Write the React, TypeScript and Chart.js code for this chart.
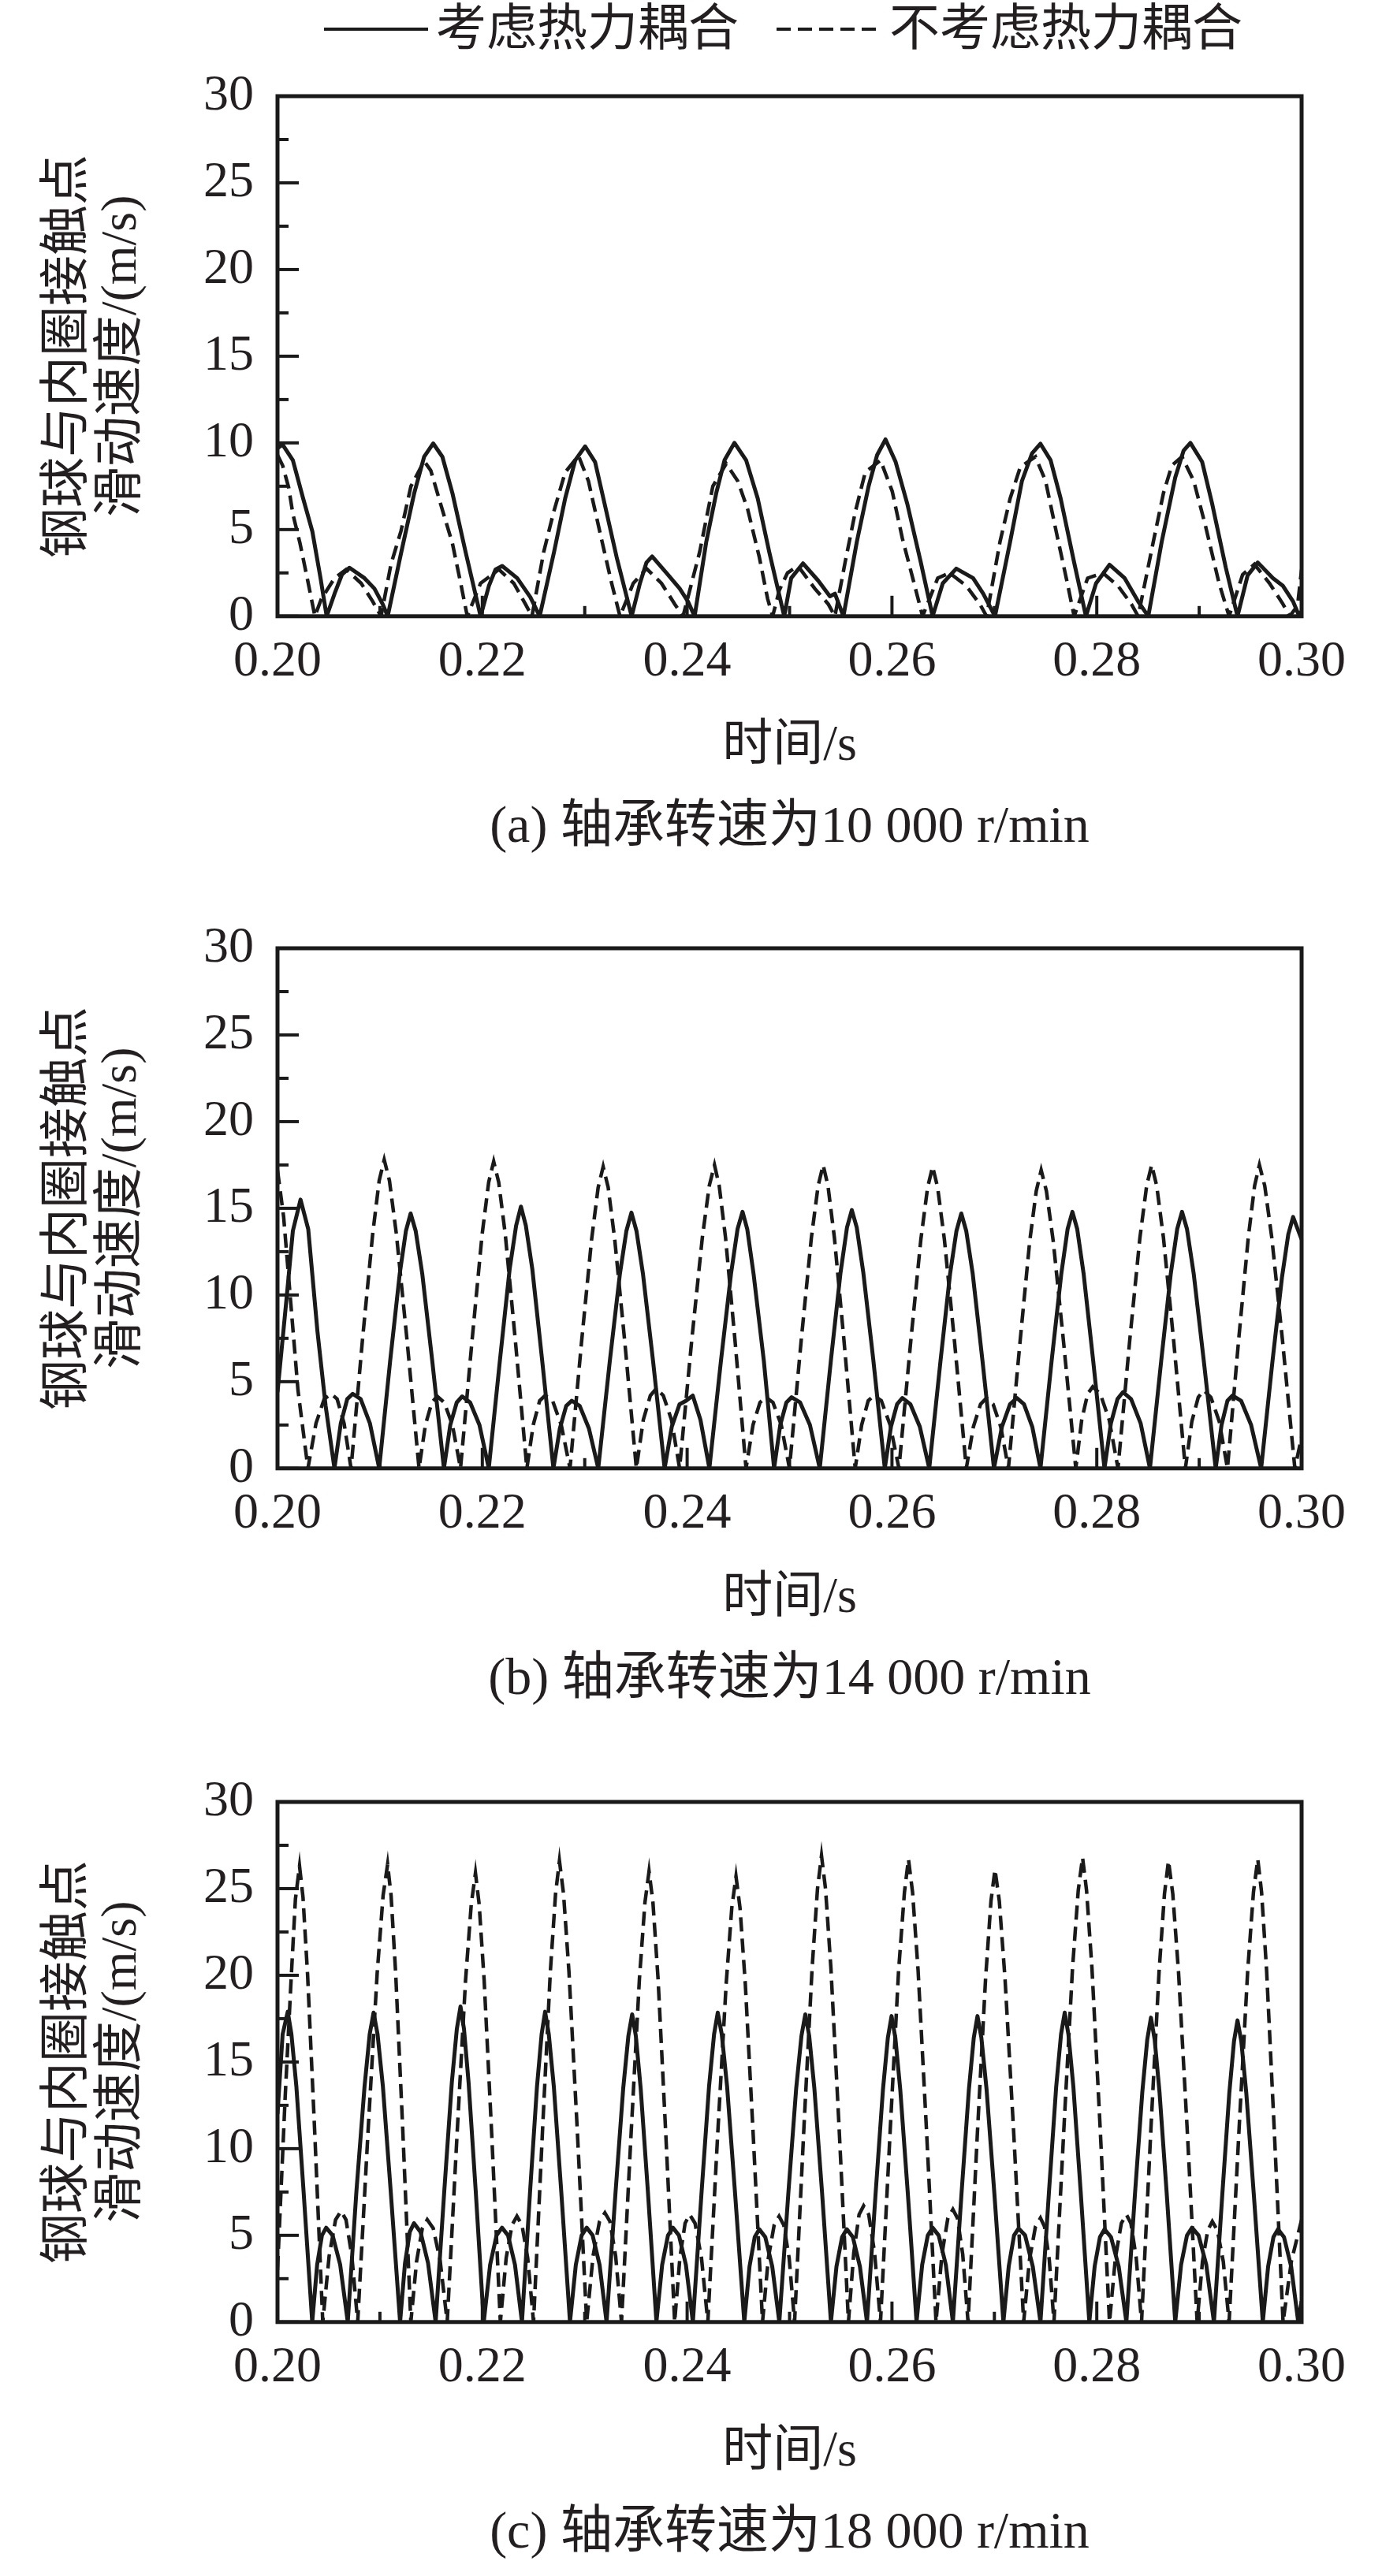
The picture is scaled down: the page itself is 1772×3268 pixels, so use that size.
import React, { useEffect, useRef } from 'react';
import { Chart, registerables } from 'chart.js';

Chart.register(...registerables);

if (typeof document !== 'undefined') {
  document.body.style.margin = '0';
}

type Pt = [number, number];

const INK = '#1a1a1a';
const TEXT = '#231f20';
const FONT = '"Liberation Serif", "Times New Roman", "Noto Sans CJK SC", serif';

// ---------- axis ticks ----------
const xTickValues = [0.2, 0.22, 0.24, 0.26, 0.28, 0.3];
const xMarkValues = [0.2, 0.21, 0.22, 0.23, 0.24, 0.25, 0.26, 0.27, 0.28, 0.29, 0.3];
const yTickValues = [0, 5, 10, 15, 20, 25, 30];
const yMarkValues = [0, 2.5, 5, 7.5, 10, 12.5, 15, 17.5, 20, 22.5, 25, 27.5, 30];

const seriesLabels = ['考虑热力耦合', '不考虑热力耦合'];
const yTitle = ['钢球与内圈接触点', '滑动速度/(m/s)'];
const xTitle = '时间/s';
const captions = [
  '(a) 轴承转速为10 000 r/min',
  '(b) 轴承转速为14 000 r/min',
  '(c) 轴承转速为18 000 r/min',
];

// ---------- (a) 10 000 r/min ----------
const coupledA: Pt[] = [
  [0.2, 9.7], [0.2005, 9.9], [0.2015, 9.0], [0.2025, 6.8], [0.2034, 4.9], [0.2042, 2.2], [0.2048, 0],
  [0.20557, 1.3], [0.20629, 2.4], [0.20703, 2.8], [0.20849, 2.2], [0.20946, 1.6], [0.21027, 0.7], [0.21076, 0],
  [0.21205, 3.6], [0.21335, 7.1], [0.21432, 9.2], [0.2152, 9.97], [0.2161, 9.2], [0.21708, 7.1], [0.21837, 3.7], [0.21983, 0],
  [0.22064, 1.75], [0.22129, 2.7], [0.22194, 2.9], [0.2234, 2.2], [0.22469, 1.1], [0.2256, 0],
  [0.227, 3.7], [0.22809, 6.8], [0.22907, 9.0], [0.23004, 9.8], [0.23101, 8.9], [0.23182, 6.8], [0.23312, 3.4], [0.23458, 0],
  [0.23539, 1.9], [0.23603, 3.1], [0.23658, 3.45], [0.23798, 2.5], [0.23927, 1.6], [0.24008, 0.85], [0.24073, 0],
  [0.24187, 4.3], [0.24284, 7.1], [0.24365, 9.0], [0.24462, 10.0], [0.24576, 9.0], [0.24689, 6.8], [0.24802, 3.7], [0.24948, 0],
  [0.25016, 2.2], [0.25131, 3.05], [0.25279, 2.06], [0.25394, 1.15], [0.25443, 1.3], [0.25526, 0],
  [0.25657, 4.3], [0.25772, 7.5], [0.25855, 9.3], [0.25937, 10.2], [0.26036, 8.9], [0.26151, 6.45], [0.26282, 3.1], [0.26397, 0],
  [0.26496, 1.9], [0.26628, 2.75], [0.26792, 2.2], [0.26891, 1.3], [0.27006, 0],
  [0.27154, 4.3], [0.27269, 7.8], [0.27368, 9.4], [0.2745, 9.95], [0.27549, 9.0], [0.27647, 6.8], [0.27779, 3.1], [0.27894, 0],
  [0.27993, 1.9], [0.28124, 2.97], [0.28272, 2.2], [0.28404, 0.85], [0.28503, 0],
  [0.28634, 4.3], [0.28766, 8.0], [0.28848, 9.56], [0.28914, 10.0], [0.29029, 8.9], [0.29128, 6.45], [0.2926, 2.8], [0.29374, 0],
  [0.29473, 2.36], [0.29572, 3.1], [0.2972, 2.2], [0.29818, 1.75], [0.29917, 0.85], [0.29977, 0], [0.3, 0.3],
];

const uncoupledA: Pt[] = [
  [0.2, 9.3], [0.2005, 8.7], [0.2011, 7.4], [0.2015, 5.9], [0.2022, 4.2], [0.2029, 2.2], [0.20365, 0],
  [0.20428, 1.0], [0.20557, 2.2], [0.20671, 2.7], [0.20817, 1.9], [0.2093, 0.85], [0.21011, 0],
  [0.21108, 3.0], [0.21205, 4.9], [0.21303, 7.5], [0.21432, 8.95], [0.21497, 8.4], [0.21594, 6.45], [0.21708, 4.2], [0.21789, 1.9], [0.21853, 0],
  [0.21983, 1.9], [0.22161, 2.7], [0.22307, 1.9], [0.22421, 0.7], [0.22485, 0],
  [0.22599, 3.7], [0.22696, 6.0], [0.22809, 8.3], [0.22939, 9.26], [0.23036, 7.8], [0.2315, 4.8], [0.23263, 1.9], [0.23344, 0],
  [0.23474, 1.9], [0.23603, 2.75], [0.23749, 1.9], [0.23879, 0.7], [0.2396, 0],
  [0.24122, 3.7], [0.24251, 7.5], [0.24381, 8.8], [0.24494, 7.8], [0.24592, 6.15], [0.24705, 3.4], [0.24786, 1.0], [0.24835, 0],
  [0.249, 1.5], [0.2498, 2.5], [0.25082, 2.9], [0.25246, 1.6], [0.25378, 0.7], [0.25443, 0],
  [0.25542, 3.1], [0.25641, 6.0], [0.25739, 8.3], [0.25888, 9.0], [0.26003, 7.2], [0.26101, 4.5], [0.26216, 1.9], [0.26299, 0],
  [0.26447, 2.2], [0.26562, 2.5], [0.26726, 1.75], [0.26858, 0.7], [0.26924, 0],
  [0.27055, 4.3], [0.27154, 6.8], [0.27253, 8.6], [0.27401, 9.2], [0.275, 7.8], [0.27614, 4.6], [0.27713, 1.9], [0.27779, 0],
  [0.27911, 2.2], [0.28059, 2.5], [0.28207, 1.75], [0.28338, 0.7], [0.28404, 0],
  [0.28552, 4.3], [0.28651, 7.1], [0.28733, 8.7], [0.28832, 9.2], [0.28947, 7.8], [0.29062, 5.2], [0.29194, 1.9], [0.29292, 0],
  [0.29424, 2.4], [0.29539, 3.0], [0.29687, 1.9], [0.29818, 0.7], [0.29884, 0], [0.2996, 0.6], [0.3, 2.7],
];

// ---------- (b) 14 000 r/min ----------
const coupledB: Pt[] = [
  [0.2, 4.4], [0.2009, 9.9], [0.2015, 13.7], [0.20225, 15.5], [0.203, 13.8], [0.2039, 7.9], [0.2047, 3.6], [0.20556, 0],
  [0.20618, 2.6], [0.20681, 4.0], [0.20734, 4.3], [0.20812, 4.0], [0.20902, 2.6], [0.20993, 0],
  [0.211, 6.2], [0.21193, 11.2], [0.21254, 13.7], [0.213, 14.7], [0.21349, 13.7], [0.21414, 11.2], [0.21511, 6.2], [0.21625, 0],
  [0.21687, 2.5], [0.2175, 3.8], [0.21803, 4.15], [0.21881, 3.8], [0.21972, 2.5], [0.22063, 0],
  [0.22173, 6.3], [0.22267, 11.5], [0.2233, 14.0], [0.22377, 15.1], [0.22425, 14.0], [0.22488, 11.5], [0.22583, 6.3], [0.22694, 0],
  [0.22757, 2.3], [0.22819, 3.6], [0.22873, 3.9], [0.22951, 3.6], [0.23041, 2.3], [0.23132, 0],
  [0.23245, 6.2], [0.23343, 11.2], [0.23407, 13.7], [0.23456, 14.75], [0.23505, 13.7], [0.23569, 11.2], [0.23667, 6.2], [0.2378, 0],
  [0.2385, 2.4], [0.23926, 3.7], [0.2399, 3.9], [0.24055, 4.2], [0.2413, 2.8], [0.24217, 0],
  [0.2433, 6.2], [0.24428, 11.2], [0.24492, 13.8], [0.24541, 14.8], [0.24587, 13.8], [0.24649, 11.2], [0.24749, 6.2], [0.24849, 0],
  [0.24909, 2.5], [0.24969, 3.8], [0.2502, 4.1], [0.25103, 3.8], [0.25199, 2.5], [0.25295, 0],
  [0.25405, 6.3], [0.25498, 11.3], [0.25561, 13.9], [0.25608, 14.9], [0.25656, 13.9], [0.2572, 11.3], [0.25817, 6.3], [0.2593, 0],
  [0.2599, 2.4], [0.2605, 3.7], [0.26101, 4.06], [0.2618, 3.7], [0.26272, 2.4], [0.26364, 0],
  [0.26474, 6.2], [0.26567, 11.2], [0.2663, 13.7], [0.26677, 14.7], [0.26725, 13.7], [0.26789, 11.2], [0.26884, 6.2], [0.26996, 0],
  [0.27074, 2.4], [0.27153, 3.7], [0.2722, 4.06], [0.27289, 3.7], [0.2737, 2.4], [0.2745, 0],
  [0.27559, 6.2], [0.27653, 11.2], [0.27715, 13.8], [0.27762, 14.8], [0.27809, 13.8], [0.27872, 11.2], [0.27965, 6.2], [0.28075, 0],
  [0.28138, 2.6], [0.28202, 4.0], [0.28256, 4.4], [0.28335, 4.0], [0.28428, 2.6], [0.28519, 0],
  [0.28629, 6.2], [0.28722, 11.2], [0.28785, 13.8], [0.28832, 14.8], [0.28881, 13.8], [0.28947, 11.2], [0.29045, 6.2], [0.29161, 0],
  [0.29218, 2.5], [0.29276, 3.9], [0.29325, 4.2], [0.29409, 3.9], [0.29507, 2.5], [0.29605, 0],
  [0.29714, 6.1], [0.29808, 11.0], [0.2987, 13.5], [0.29917, 14.5], [0.3, 13.2],
];

const uncoupledB: Pt[] = [
  [0.2, 17.2], [0.2006, 14.5], [0.2013, 9.5], [0.202, 4.5], [0.20297, 0],
  [0.20376, 2.6], [0.20456, 4.0], [0.20524, 4.3], [0.20582, 4.0], [0.2065, 2.6], [0.20718, 0],
  [0.20831, 7.5], [0.20929, 13.5], [0.20993, 16.6], [0.21042, 17.8], [0.21093, 16.6], [0.21161, 13.5], [0.21263, 7.5], [0.21382, 0],
  [0.21444, 2.5], [0.21507, 3.8], [0.2156, 4.15], [0.21628, 3.8], [0.21708, 2.5], [0.21787, 0],
  [0.219, 7.4], [0.21998, 13.5], [0.22062, 16.5], [0.22111, 17.7], [0.2216, 16.5], [0.22224, 13.5], [0.22322, 7.4], [0.22435, 0],
  [0.22497, 2.5], [0.2256, 3.9], [0.22613, 4.2], [0.22686, 3.9], [0.22771, 2.5], [0.22856, 0],
  [0.22969, 7.3], [0.23067, 13.2], [0.23131, 16.2], [0.2318, 17.4], [0.23229, 16.2], [0.23293, 13.2], [0.23391, 7.3], [0.23504, 0],
  [0.23572, 2.8], [0.23641, 4.2], [0.23699, 4.6], [0.23767, 4.2], [0.23847, 2.8], [0.23926, 0],
  [0.24045, 7.4], [0.24148, 13.3], [0.24216, 16.3], [0.24267, 17.5], [0.24313, 16.3], [0.24375, 13.3], [0.24467, 7.4], [0.24575, 0],
  [0.24643, 2.5], [0.24711, 3.8], [0.24769, 4.1], [0.24838, 3.8], [0.24919, 2.5], [0.24999, 0],
  [0.25114, 7.4], [0.25213, 13.3], [0.25279, 16.3], [0.25328, 17.5], [0.25375, 16.3], [0.25438, 13.3], [0.25531, 7.4], [0.25641, 0],
  [0.25704, 2.5], [0.25768, 3.9], [0.25822, 4.2], [0.25896, 3.9], [0.25982, 2.5], [0.26068, 0],
  [0.26183, 7.3], [0.26282, 13.2], [0.26348, 16.2], [0.26397, 17.4], [0.26446, 16.2], [0.26512, 13.2], [0.26611, 7.3], [0.26726, 0],
  [0.26795, 2.4], [0.26865, 3.7], [0.26924, 4.06], [0.26988, 3.7], [0.27062, 2.4], [0.27137, 0],
  [0.27249, 7.2], [0.27345, 13.1], [0.27409, 16.0], [0.27457, 17.2], [0.27508, 16.0], [0.27575, 13.1], [0.27677, 7.2], [0.27795, 0],
  [0.27853, 2.8], [0.27911, 4.3], [0.2796, 4.7], [0.28034, 4.3], [0.28121, 2.8], [0.28207, 0],
  [0.28322, 7.4], [0.28421, 13.3], [0.28487, 16.3], [0.28536, 17.5], [0.28585, 16.3], [0.28651, 13.3], [0.2875, 7.4], [0.28865, 0],
  [0.28928, 2.7], [0.28991, 4.1], [0.29045, 4.5], [0.29114, 4.1], [0.29196, 2.7], [0.29276, 0],
  [0.29385, 7.4], [0.29479, 13.3], [0.29541, 16.3], [0.29588, 17.5], [0.2964, 16.3], [0.29709, 13.3], [0.29813, 7.4], [0.29934, 0],
  [0.3, 1.8],
];

// ---------- (c) 18 000 r/min ----------
const coupledC: Pt[] = [
  [0.2, 12.0], [0.2005, 16.6], [0.201, 17.9], [0.20136, 16.6], [0.20184, 13.6], [0.20255, 7.5], [0.20339, 0],
  [0.20387, 3.3], [0.20434, 5.0], [0.20475, 5.44], [0.20538, 5.0], [0.20612, 3.3], [0.20686, 0],
  [0.2077, 7.5], [0.2085, 13.6], [0.209, 16.6], [0.20938, 17.85], [0.20977, 16.6], [0.21029, 13.6], [0.21106, 7.5], [0.21197, 0],
  [0.21245, 3.4], [0.21292, 5.2], [0.21333, 5.7], [0.21396, 5.2], [0.2147, 3.4], [0.21544, 0],
  [0.21629, 7.6], [0.21702, 13.8], [0.21751, 16.9], [0.21787, 18.2], [0.21821, 16.9], [0.21866, 13.8], [0.21935, 7.6], [0.22014, 0],
  [0.22076, 3.3], [0.22139, 5.0], [0.22192, 5.44], [0.22251, 5.0], [0.22319, 3.3], [0.22387, 0],
  [0.22466, 7.5], [0.22534, 13.6], [0.22579, 16.6], [0.22613, 17.9], [0.22649, 16.6], [0.22698, 13.6], [0.22771, 7.5], [0.22856, 0],
  [0.22913, 3.3], [0.2297, 5.0], [0.23019, 5.44], [0.23077, 5.0], [0.23145, 3.3], [0.23213, 0],
  [0.23301, 7.5], [0.23376, 13.5], [0.23426, 16.5], [0.23463, 17.75], [0.23499, 16.5], [0.23546, 13.5], [0.23617, 7.5], [0.237, 0],
  [0.23756, 3.3], [0.23813, 5.0], [0.23861, 5.44], [0.2392, 5.0], [0.23988, 3.3], [0.24056, 0],
  [0.24141, 7.5], [0.24214, 13.6], [0.24263, 16.6], [0.24299, 17.85], [0.24338, 16.6], [0.2439, 13.6], [0.24467, 7.5], [0.24558, 0],
  [0.24609, 3.2], [0.2466, 4.9], [0.24704, 5.35], [0.24763, 4.9], [0.24831, 3.2], [0.249, 0],
  [0.24989, 7.5], [0.25065, 13.5], [0.25116, 16.5], [0.25154, 17.75], [0.25192, 16.5], [0.25242, 13.5], [0.25317, 7.5], [0.25404, 0],
  [0.25458, 3.2], [0.25513, 4.9], [0.25559, 5.35], [0.25618, 4.9], [0.25687, 3.2], [0.25756, 0],
  [0.2584, 7.4], [0.25912, 13.4], [0.2596, 16.4], [0.25996, 17.65], [0.26033, 16.4], [0.26081, 13.4], [0.26155, 7.4], [0.2624, 0],
  [0.26295, 3.3], [0.2635, 5.0], [0.26397, 5.44], [0.26456, 5.0], [0.26526, 3.3], [0.26595, 0],
  [0.26679, 7.4], [0.26751, 13.4], [0.26799, 16.4], [0.26835, 17.65], [0.26873, 16.4], [0.26924, 13.4], [0.27, 7.4], [0.27088, 0],
  [0.2714, 3.2], [0.27192, 5.0], [0.27236, 5.4], [0.273, 5.0], [0.27375, 3.2], [0.2745, 0],
  [0.27533, 7.5], [0.27604, 13.6], [0.27651, 16.6], [0.27687, 17.85], [0.27723, 16.6], [0.27771, 13.6], [0.27843, 7.5], [0.27927, 0],
  [0.27979, 3.2], [0.28031, 4.9], [0.28075, 5.35], [0.28139, 4.9], [0.28214, 3.2], [0.28289, 0],
  [0.28373, 7.4], [0.28445, 13.3], [0.28493, 16.3], [0.28529, 17.56], [0.28565, 16.3], [0.28612, 13.3], [0.28683, 7.4], [0.28766, 0],
  [0.28823, 3.3], [0.28881, 5.0], [0.2893, 5.44], [0.28994, 5.0], [0.29069, 3.3], [0.29144, 0],
  [0.29225, 7.3], [0.29294, 13.2], [0.2934, 16.2], [0.29374, 17.4], [0.29411, 16.2], [0.2946, 13.2], [0.29534, 7.3], [0.29621, 0],
  [0.29673, 3.2], [0.29725, 4.9], [0.29769, 5.35], [0.29828, 4.9], [0.29898, 3.2], [0.29967, 0],
  [0.3, 1.2],
];

const uncoupledC: Pt[] = [
  [0.2, 3.0], [0.20075, 13.0], [0.20135, 20.0], [0.20175, 24.4], [0.20215, 26.3], [0.20249, 24.5], [0.20294, 20.0], [0.20363, 11.0], [0.20442, 0],
  [0.20504, 3.8], [0.20567, 5.9], [0.2062, 6.4], [0.20669, 5.9], [0.20726, 3.8], [0.20783, 0],
  [0.20885, 11.1], [0.20973, 20.1], [0.21031, 24.6], [0.21075, 26.4], [0.21109, 24.6], [0.21154, 20.1], [0.21223, 11.1], [0.21302, 0],
  [0.21358, 3.5], [0.21414, 5.4], [0.21462, 5.9], [0.21521, 5.4], [0.21589, 3.5], [0.21657, 0],
  [0.21754, 10.9], [0.21836, 19.7], [0.21892, 24.1], [0.21933, 25.9], [0.21969, 24.1], [0.22018, 19.7], [0.22091, 10.9], [0.22176, 0],
  [0.22233, 3.7], [0.2229, 5.6], [0.22338, 6.1], [0.22387, 5.6], [0.22443, 3.7], [0.225, 0],
  [0.22589, 11.2], [0.22664, 20.2], [0.22715, 24.7], [0.22753, 26.6], [0.22793, 24.7], [0.22846, 20.2], [0.22926, 11.2], [0.23019, 0],
  [0.23081, 3.8], [0.23144, 5.8], [0.23197, 6.3], [0.23246, 5.8], [0.23302, 3.8], [0.23359, 0],
  [0.23453, 10.9], [0.23534, 19.8], [0.23588, 24.2], [0.23628, 26.0], [0.23666, 24.2], [0.23716, 19.8], [0.23791, 10.9], [0.23878, 0],
  [0.23929, 3.7], [0.2398, 5.7], [0.24024, 6.2], [0.24077, 5.7], [0.2414, 3.7], [0.24202, 0],
  [0.24298, 10.8], [0.24381, 19.5], [0.24436, 23.9], [0.24477, 25.7], [0.24516, 23.9], [0.24568, 19.5], [0.24645, 10.8], [0.24736, 0],
  [0.24793, 3.7], [0.2485, 5.6], [0.24898, 6.1], [0.24943, 5.6], [0.24996, 3.7], [0.25049, 0],
  [0.25141, 11.3], [0.2522, 20.4], [0.25273, 25.0], [0.25312, 26.9], [0.25351, 25.0], [0.25404, 20.4], [0.25483, 11.3], [0.25575, 0],
  [0.25627, 4.0], [0.25679, 6.2], [0.25723, 6.7], [0.25773, 6.2], [0.2583, 4.0], [0.25888, 0],
  [0.25984, 11.2], [0.26065, 20.3], [0.26122, 24.8], [0.26161, 26.7], [0.26201, 24.8], [0.26255, 20.3], [0.26336, 11.2], [0.2643, 0],
  [0.26488, 3.9], [0.26546, 6.0], [0.26595, 6.5], [0.26639, 6.0], [0.26691, 3.9], [0.26743, 0],
  [0.26835, 11.0], [0.26914, 19.8], [0.26967, 24.3], [0.27006, 26.1], [0.27048, 24.3], [0.27104, 19.8], [0.27188, 11.0], [0.27286, 0],
  [0.27343, 3.6], [0.27401, 5.5], [0.2745, 6.0], [0.2749, 5.5], [0.27536, 3.6], [0.27582, 0],
  [0.2768, 11.3], [0.27763, 20.4], [0.27819, 24.9], [0.27861, 26.8], [0.279, 24.9], [0.27953, 20.4], [0.28032, 11.3], [0.28124, 0],
  [0.28182, 3.7], [0.2824, 5.7], [0.28289, 6.2], [0.28333, 5.7], [0.28385, 3.7], [0.28437, 0],
  [0.28529, 11.2], [0.28608, 20.2], [0.28661, 24.7], [0.287, 26.6], [0.28742, 24.7], [0.28798, 20.2], [0.28882, 11.2], [0.2898, 0],
  [0.29032, 3.5], [0.29084, 5.3], [0.29128, 5.8], [0.29177, 5.3], [0.29235, 3.5], [0.29292, 0],
  [0.2939, 11.2], [0.29474, 20.3], [0.2953, 24.8], [0.29572, 26.7], [0.29609, 24.8], [0.29658, 20.3], [0.29732, 11.2], [0.29819, 0],
  [0.299, 3.5], [0.3, 5.9],
];

// ---------- layout constants ----------
const CANVAS_W = 1772;
const CANVAS_H = 1090;
const PLOT_LEFT = 352;
const PLOT_RIGHT_PAD = 121;
const PLOT_TOP = 122;
const X_AXIS_H = 204;
const panelTops = [0, 1081, 2164];

const frameTicksPlugin = {
  id: 'frameTicks',
  afterDatasetsDraw(chart: any) {
    const { ctx, chartArea: a, scales } = chart;
    const xs = scales.x;
    const ys = scales.y;
    ctx.save();
    ctx.setLineDash([]);
    ctx.strokeStyle = INK;
    ctx.lineWidth = 4;
    ctx.lineCap = 'butt';
    yMarkValues.forEach((v) => {
      const py = ys.getPixelForValue(v);
      const len = v % 5 === 0 ? 27 : 14;
      ctx.beginPath();
      ctx.moveTo(a.left, py);
      ctx.lineTo(a.left + len, py);
      ctx.stroke();
    });
    xMarkValues.forEach((v, i) => {
      const px = xs.getPixelForValue(v);
      const len = i % 2 === 0 ? 26 : 13;
      ctx.beginPath();
      ctx.moveTo(px, a.bottom);
      ctx.lineTo(px, a.bottom - len);
      ctx.stroke();
    });
    ctx.lineWidth = 5;
    ctx.strokeRect(a.left, a.top, a.right - a.left, a.bottom - a.top);
    ctx.restore();
  },
};

const legendPlugin = {
  id: 'topLegend',
  afterDraw(chart: any) {
    const { ctx } = chart;
    const y = 37;
    ctx.save();
    ctx.strokeStyle = INK;
    ctx.lineWidth = 4;
    ctx.setLineDash([]);
    ctx.beginPath();
    ctx.moveTo(411, y);
    ctx.lineTo(543, y);
    ctx.stroke();
    ctx.setLineDash([18, 9]);
    ctx.beginPath();
    ctx.moveTo(985, y);
    ctx.lineTo(1114, y);
    ctx.stroke();
    ctx.setLineDash([]);
    ctx.fillStyle = TEXT;
    ctx.font = `64px ${FONT}`;
    ctx.textAlign = 'left';
    ctx.textBaseline = 'middle';
    ctx.fillText(seriesLabels[0], 553, y + 3);
    ctx.fillText(seriesLabels[1], 1128, y + 3);
    ctx.restore();
  },
};

function Panel({
  top,
  coupled,
  uncoupled,
  caption,
  showLegend,
}: {
  top: number;
  coupled: Pt[];
  uncoupled: Pt[];
  caption: string;
  showLegend: boolean;
}) {
  const ref = useRef<HTMLCanvasElement>(null);

  useEffect(() => {
    const canvas = ref.current;
    if (!canvas) return;
    const font = { family: FONT, size: 64, lineHeight: 1.2 };
    const chart = new Chart(canvas, {
      type: 'line',
      data: {
        datasets: [
          {
            label: seriesLabels[0],
            data: coupled.map(([x, y]) => ({ x, y })),
            borderColor: INK,
            borderWidth: 5,
            borderJoinStyle: 'round',
            pointRadius: 0,
            tension: 0,
            fill: false,
          },
          {
            label: seriesLabels[1],
            data: uncoupled.map(([x, y]) => ({ x, y })),
            borderColor: INK,
            borderWidth: 4.5,
            borderDash: [18, 9],
            pointRadius: 0,
            tension: 0,
            fill: false,
          },
        ],
      },
      options: {
        responsive: false,
        animation: false,
        devicePixelRatio: 1,
        events: [],
        layout: { padding: { left: 0, right: PLOT_RIGHT_PAD, top: PLOT_TOP, bottom: 0 } },
        scales: {
          x: {
            type: 'linear',
            min: 0.2,
            max: 0.3,
            afterBuildTicks: (s: any) => {
              s.ticks = xTickValues.map((v) => ({ value: v }));
            },
            afterFit: (s: any) => {
              s.height = X_AXIS_H;
            },
            ticks: {
              autoSkip: false,
              maxRotation: 0,
              padding: 20,
              color: TEXT,
              font,
              callback: (v: any) => Number(v).toFixed(2),
            },
            grid: { display: false, drawTicks: false },
            border: { display: false },
            title: {
              display: true,
              text: xTitle,
              color: TEXT,
              font,
              padding: { top: 0, bottom: 0 },
            },
          },
          y: {
            type: 'linear',
            min: 0,
            max: 30,
            afterBuildTicks: (s: any) => {
              s.ticks = yTickValues.map((v) => ({ value: v }));
            },
            afterFit: (s: any) => {
              s.width = PLOT_LEFT;
            },
            ticks: {
              padding: 30,
              color: TEXT,
              font,
            },
            grid: { display: false, drawTicks: false },
            border: { display: false },
            title: {
              display: true,
              text: yTitle,
              color: TEXT,
              font: { family: FONT, size: 64, lineHeight: 1.06 },
              padding: { top: 53, bottom: 0 },
            },
          },
        },
        plugins: {
          legend: { display: false },
          tooltip: { enabled: false },
          title: {
            display: true,
            position: 'bottom',
            fullSize: false,
            text: caption,
            color: TEXT,
            font: { family: FONT, size: 66, lineHeight: 1.2, weight: 'normal' },
            padding: { top: 25, bottom: 0 },
          },
        },
      } as any,
      plugins: showLegend ? [frameTicksPlugin, legendPlugin] : [frameTicksPlugin],
    });
    return () => chart.destroy();
  }, [coupled, uncoupled, caption, showLegend]);

  return (
    <canvas
      ref={ref}
      width={CANVAS_W}
      height={CANVAS_H}
      style={{ position: 'absolute', left: 0, top, width: CANVAS_W, height: CANVAS_H }}
    />
  );
}

export default function App() {
  return (
    <div style={{ position: 'relative', width: 1772, height: 3268, background: '#fff' }}>
      <Panel top={panelTops[0]} coupled={coupledA} uncoupled={uncoupledA} caption={captions[0]} showLegend={true} />
      <Panel top={panelTops[1]} coupled={coupledB} uncoupled={uncoupledB} caption={captions[1]} showLegend={false} />
      <Panel top={panelTops[2]} coupled={coupledC} uncoupled={uncoupledC} caption={captions[2]} showLegend={false} />
    </div>
  );
}
